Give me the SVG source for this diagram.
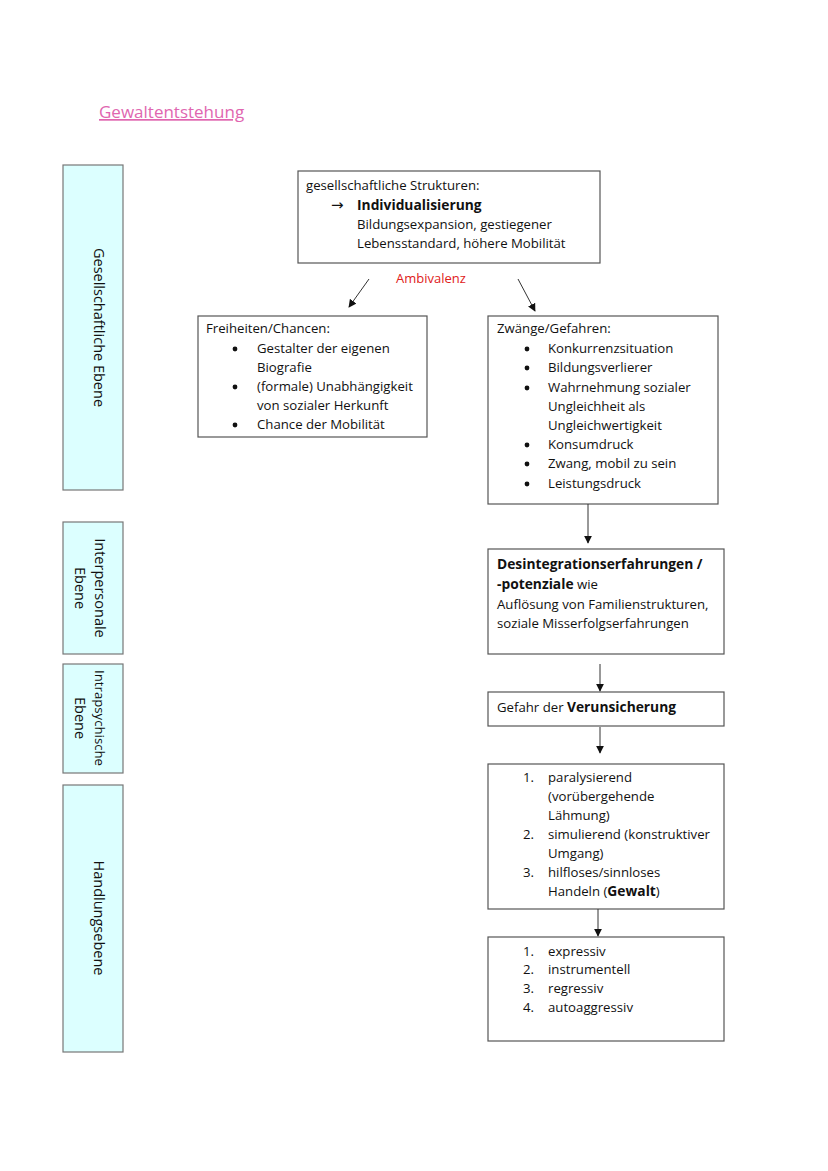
<svg xmlns="http://www.w3.org/2000/svg" width="828" height="1171" viewBox="0 0 828 1171">
<defs>
<style>
text{font-family:"Open Sans","Liberation Sans",sans-serif;font-size:13.2px;fill:#111}
.b{font-weight:bold;font-size:13.8px}
.side{fill:#dcffff;stroke:#777;stroke-width:1.2}
.box{fill:#fff;stroke:#555;stroke-width:1.2}
.side-t{font-size:14.5px}
.con{stroke:#333;stroke-width:1;fill:none}
.title{fill:#e066b0;font-size:17px;text-decoration:underline}
.red{fill:#e02020;font-size:13px}
.arr{font-family:"DejaVu Sans",sans-serif;font-size:15px}
.dot{fill:#111}
</style>
<marker id="ah" viewBox="0 0 10 10" refX="9" refY="5" markerWidth="8" markerHeight="8" markerUnits="userSpaceOnUse" orient="auto">
<path d="M0,0 L10,5 L0,10 z" fill="#111"/>
</marker>
</defs>
<rect width="828" height="1171" fill="#fff"/>
<text class="title" x="99" y="118">Gewaltentstehung</text>

<g id="side1"><rect class="side" x="63" y="165" width="60" height="325"/>
<text class="side-t" transform="translate(94,327.5) rotate(90)" text-anchor="middle">Gesellschaftliche Ebene</text></g>
<g id="side2"><rect class="side" x="63" y="522" width="60" height="132"/>
<text class="side-t" transform="translate(95,588) rotate(90)" text-anchor="middle"><tspan x="0" y="0">Interpersonale</tspan><tspan x="0" y="20">Ebene</tspan></text></g>
<g id="side3"><rect class="side" x="63" y="664" width="60" height="109"/>
<text class="side-t" transform="translate(95,718) rotate(90)" text-anchor="middle"><tspan x="0" y="0" style="font-size:13.2px">Intrapsychische</tspan><tspan x="0" y="20">Ebene</tspan></text></g>
<g id="side4"><rect class="side" x="63" y="785" width="60" height="267"/>
<text class="side-t" transform="translate(94,918) rotate(90)" text-anchor="middle">Handlungsebene</text></g>

<g id="top"><rect class="box" x="298" y="171" width="302" height="92"/>
<text x="306" y="190">gesellschaftliche Strukturen:</text>
<text class="arr" x="331" y="210">→</text>
<text class="b" x="357" y="210">Individualisierung</text>
<text x="357" y="229">Bildungsexpansion, gestiegener</text>
<text x="357" y="248">Lebensstandard, höhere Mobilität</text></g>

<g id="ambivalenz"><text class="red" x="431" y="283" text-anchor="middle">Ambivalenz</text></g>

<g id="chancen"><rect class="box" x="198" y="316" width="229" height="121"/>
<text x="206" y="333">Freiheiten/Chancen:</text>
<circle class="dot" cx="235" cy="349" r="2.4"/><text x="257" y="353">Gestalter der eigenen</text>
<text x="257" y="372">Biografie</text>
<circle class="dot" cx="235" cy="387" r="2.4"/><text x="257" y="391">(formale) Unabhängigkeit</text>
<text x="257" y="410">von sozialer Herkunft</text>
<circle class="dot" cx="235" cy="425" r="2.4"/><text x="257" y="429">Chance der Mobilität</text></g>

<g id="gefahren"><rect class="box" x="488" y="316" width="230" height="188"/>
<text x="497" y="333">Zwänge/Gefahren:</text>
<circle class="dot" cx="527" cy="349" r="2.4"/><text x="548" y="353">Konkurrenzsituation</text>
<circle class="dot" cx="527" cy="368" r="2.4"/><text x="548" y="372">Bildungsverlierer</text>
<circle class="dot" cx="527" cy="388" r="2.4"/><text x="548" y="392">Wahrnehmung sozialer</text>
<text x="548" y="411">Ungleichheit als</text>
<text x="548" y="430">Ungleichwertigkeit</text>
<circle class="dot" cx="527" cy="445" r="2.4"/><text x="548" y="449">Konsumdruck</text>
<circle class="dot" cx="527" cy="464" r="2.4"/><text x="548" y="468">Zwang, mobil zu sein</text>
<circle class="dot" cx="527" cy="484" r="2.4"/><text x="548" y="488">Leistungsdruck</text></g>

<g id="desintegration"><rect class="box" x="488" y="549" width="236" height="105"/>
<text class="b" x="497" y="569">Desintegrationserfahrungen /</text>
<text x="497" y="589"><tspan class="b">-potenziale</tspan> wie</text>
<text x="497" y="609">Auflösung von Familienstrukturen,</text>
<text x="497" y="628">soziale Misserfolgserfahrungen</text></g>

<g id="verunsicherung"><rect class="box" x="488" y="692" width="236" height="34"/>
<text x="497" y="712">Gefahr der <tspan class="b">Verunsicherung</tspan></text></g>

<g id="reaktionen"><rect class="box" x="488" y="764" width="236" height="145"/>
<text x="523" y="782">1.</text><text x="548" y="782">paralysierend</text>
<text x="548" y="801">(vorübergehende</text>
<text x="548" y="820">Lähmung)</text>
<text x="523" y="839">2.</text><text x="548" y="839">simulierend (konstruktiver</text>
<text x="548" y="858">Umgang)</text>
<text x="523" y="877">3.</text><text x="548" y="877">hilfloses/sinnloses</text>
<text x="548" y="896">Handeln (<tspan class="b">Gewalt</tspan>)</text></g>

<g id="gewaltformen"><rect class="box" x="488" y="937" width="236" height="104"/>
<text x="523" y="956">1.</text><text x="548" y="956">expressiv</text>
<text x="523" y="974">2.</text><text x="548" y="974">instrumentell</text>
<text x="523" y="993">3.</text><text x="548" y="993">regressiv</text>
<text x="523" y="1012">4.</text><text x="548" y="1012">autoaggressiv</text></g>

<g id="connectors">
<line class="con" x1="369" y1="279" x2="349" y2="307" marker-end="url(#ah)"/>
<line class="con" x1="518" y1="279" x2="535" y2="311" marker-end="url(#ah)"/>
<line class="con" x1="588" y1="504" x2="588" y2="543" marker-end="url(#ah)"/>
<line class="con" x1="600" y1="664" x2="600" y2="691" marker-end="url(#ah)"/>
<line class="con" x1="600" y1="727" x2="600" y2="753" marker-end="url(#ah)"/>
<line class="con" x1="598" y1="909" x2="598" y2="936" marker-end="url(#ah)"/>
</g>
</svg>
